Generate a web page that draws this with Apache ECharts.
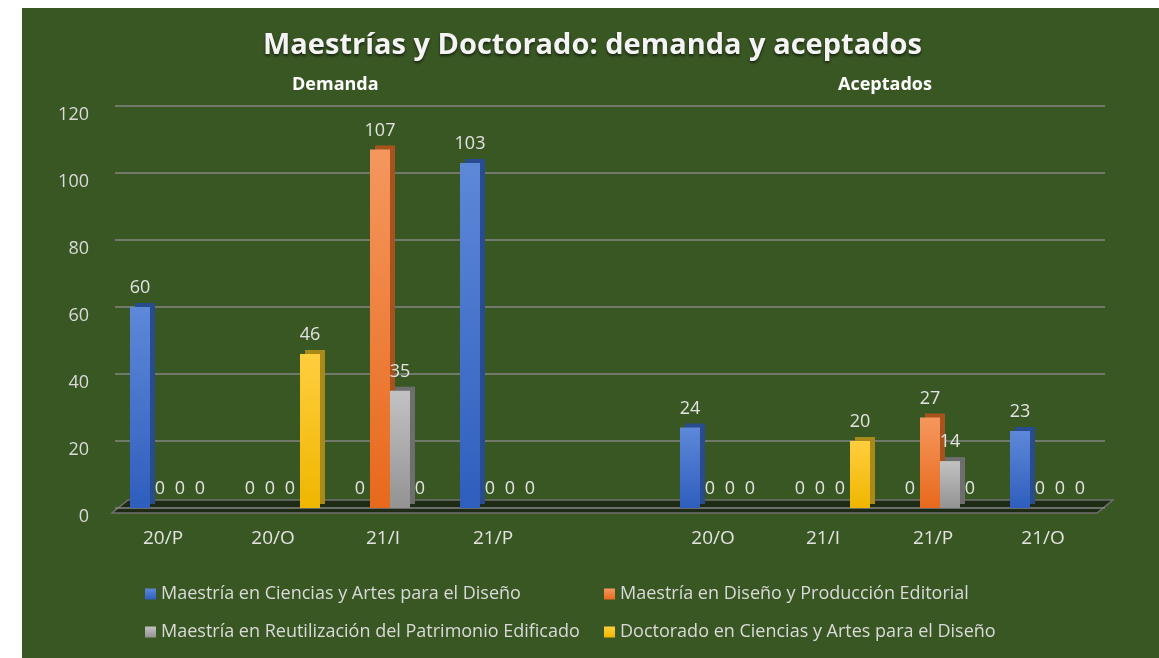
<!DOCTYPE html>
<html>
<head>
<meta charset="utf-8">
<script src="https://cdn.jsdelivr.net/npm/echarts@6/dist/echarts.min.js"></script>
<style>
  html, body { margin: 0; padding: 0; background: #fff; }
  #chart { width: 1159px; height: 658px; }
</style>
</head>
<body>
<div id="chart"></div>
<script>
  // categorias de cada bloque
  let demandaCats = ['20/P', '20/O', '21/I', '21/P'];
  let aceptadosCats = ['20/O', '21/I', '21/P', '21/O'];

  let seriesNames = [
    'Maestría en Ciencias y Artes para el Diseño',
    'Maestría en Diseño y Producción Editorial',
    'Maestría en Reutilización del Patrimonio Edificado',
    'Doctorado en Ciencias y Artes para el Diseño'
  ];

  // demanda
  let demCienciasArtes = [60, 0, 0, 103];
  let demEditorial = [0, 0, 107, 0];
  let demPatrimonio = [0, 0, 35, 0];
  let demDoctorado = [0, 46, 0, 0];

  // aceptados
  let acepCienciasArtes = [24, 0, 0, 23];
  let acepEditorial = [0, 0, 27, 0];
  let acepPatrimonio = [0, 0, 14, 0];
  let acepDoctorado = [0, 20, 0, 0];

  let yTicks = [0, 20, 40, 60, 80, 100, 120];

  // un hueco entre los dos bloques
  let cats = demandaCats.concat([''], aceptadosCats);
  function join(a, b) { return a.concat(['-'], b); }

  let colors = [
    ['#5E88D8', '#2E5EBE', '#284C8E'],
    ['#F5975E', '#E8691C', '#A8521E'],
    ['#C2C2C2', '#939393', '#6E6E6E'],
    ['#FFCE3E', '#EFB600', '#A88A1A']
  ];
  let values = [
    join(demCienciasArtes, acepCienciasArtes),
    join(demEditorial, acepEditorial),
    join(demPatrimonio, acepPatrimonio),
    join(demDoctorado, acepDoctorado)
  ];

  let series = [];
  for (let i = 0; i < seriesNames.length; i++) {
    series.push({
      name: seriesNames[i],
      type: 'bar',
      barWidth: 20,
      barGap: '0%',
      data: values[i],
      itemStyle: {
        color: new echarts.graphic.LinearGradient(0, 0, 0, 1, [
          {offset: 0, color: colors[i][0]},
          {offset: 1, color: colors[i][1]}
        ]),
        shadowColor: colors[i][2],
        shadowBlur: 0,
        shadowOffsetX: 5,
        shadowOffsetY: -4
      },
      label: {
        show: true,
        position: 'top',
        distance: 10,
        color: '#E2E2E2',
        fontSize: 18,
        fontFamily: 'Open Sans'
      }
    });
  }

  let chart = echarts.init(document.getElementById('chart'));
  let option = {
    backgroundColor: '#ffffff',
    animation: false,
    graphic: [
      {
        type: 'rect', z: -100,
        shape: {x: 22, y: 8, width: 1137, height: 650},
        style: {fill: '#395723'}
      },
      {
        type: 'polygon', z: -50,
        shape: {points: [[112, 513], [1097, 513], [1113, 500], [128, 500]]},
        style: {fill: '#1E2B14', stroke: '#707070', lineWidth: 1.5}
      },
      {
        type: 'text', left: 292, top: 76,
        style: {text: 'Demanda', fill: '#FFFFFF', font: 'bold 18px "Open Sans"'}
      },
      {
        type: 'text', left: 838, top: 76,
        style: {text: 'Aceptados', fill: '#FFFFFF', font: 'bold 18px "Open Sans"'}
      }
    ],
    title: {
      text: 'Maestrías y Doctorado: demanda y aceptados',
      left: 258,
      top: 26,
      textStyle: {
        color: '#F4F4F4',
        fontSize: 29,
        fontWeight: 'bold',
        fontFamily: 'Open Sans',
        textShadowColor: 'rgba(0,0,0,0.6)',
        textShadowBlur: 3,
        textShadowOffsetY: 2
      }
    },
    legend: [
      {
        data: [seriesNames[0], seriesNames[2]],
        orient: 'vertical',
        left: 140, top: 580,
        itemGap: 20, itemWidth: 11, itemHeight: 11,
        icon: 'rect',
        textStyle: {color: '#DADADA', fontSize: 18, fontFamily: 'Open Sans'}
      },
      {
        data: [seriesNames[1], seriesNames[3]],
        orient: 'vertical',
        left: 599, top: 580,
        itemGap: 20, itemWidth: 11, itemHeight: 11,
        icon: 'rect',
        textStyle: {color: '#DADADA', fontSize: 18, fontFamily: 'Open Sans'}
      }
    ],
    grid: {left: 115, right: 54, top: 106, bottom: 150},
    xAxis: {
      type: 'category',
      data: cats,
      axisLine: {show: false},
      axisTick: {show: false},
      axisLabel: {
        color: '#E2E2E2', fontSize: 19, fontFamily: 'Open Sans', margin: 21,
        padding: [0, 14, 0, 0]
      }
    },
    yAxis: {
      type: 'value',
      min: yTicks[0],
      max: yTicks[yTicks.length - 1],
      interval: 20,
      axisLine: {show: false},
      axisTick: {show: false},
      axisLabel: {
        color: '#DADADA', fontSize: 18, fontFamily: 'Open Sans', margin: 26,
        verticalAlign: 'top'
      },
      splitLine: {lineStyle: {color: '#858585', width: 1.5}}
    },
    series: series
  };
  chart.setOption(option);
</script>
</body>
</html>
